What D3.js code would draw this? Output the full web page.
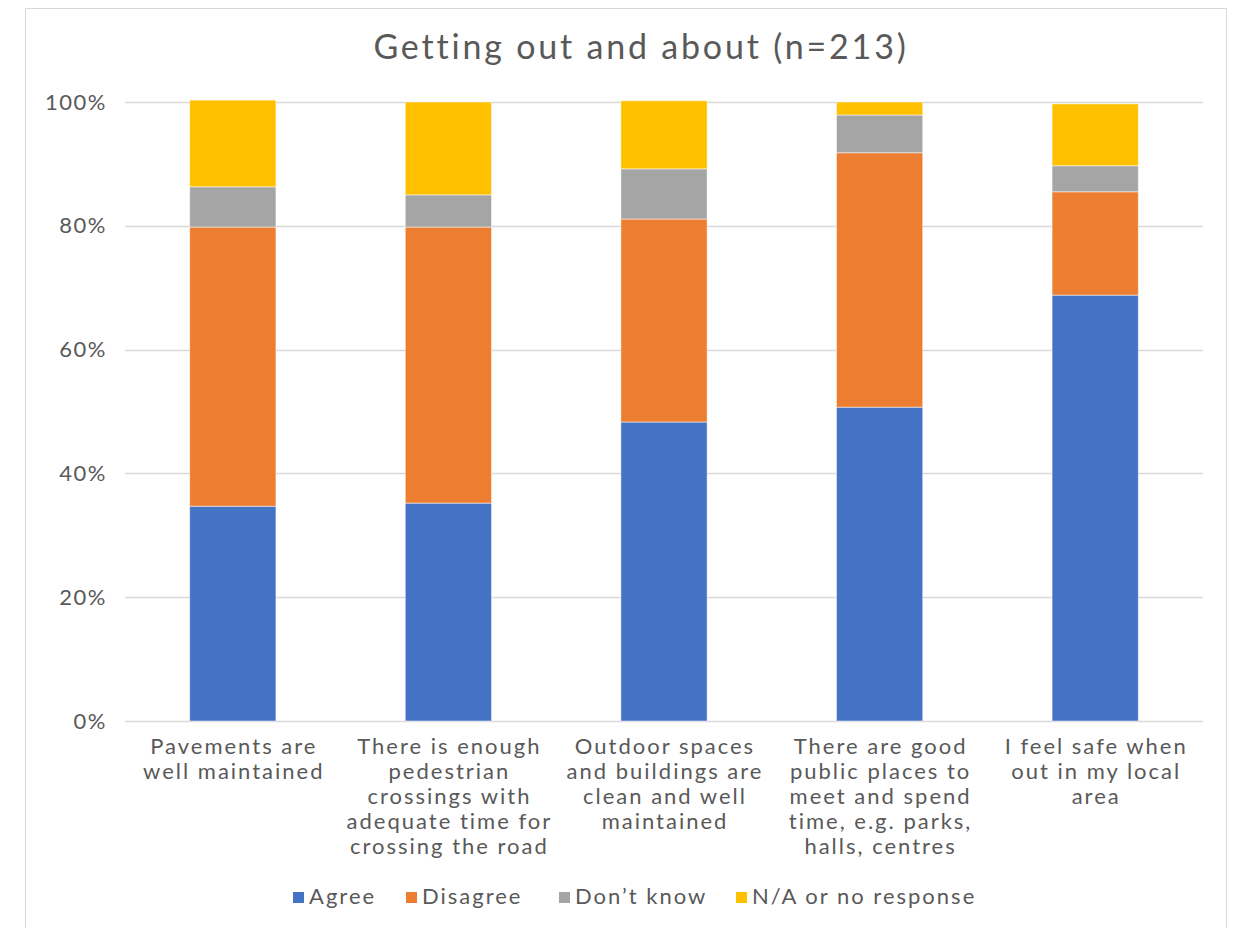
<!DOCTYPE html>
<html><head><meta charset="utf-8">
<script src="https://cdn.jsdelivr.net/npm/d3@7"></script>
<style>
html,body{margin:0;padding:0;background:#fff;}
svg{display:block;}
text{font-family:Lato,"Open Sans",sans-serif;fill:#595959;}
</style></head>
<body>
<svg id="chart" width="1237" height="928"></svg>
<script>
const title = "Getting out and about (n=213)";
const categories = [
  ["Pavements are","well maintained"],
  ["There is enough","pedestrian","crossings with","adequate time for","crossing the road"],
  ["Outdoor spaces","and buildings are","clean and well","maintained"],
  ["There are good","public places to","meet and spend","time, e.g. parks,","halls, centres"],
  ["I feel safe when","out in my local","area"]
];
const seriesNames = ["Agree","Disagree","Don\u2019t know","N/A or no response"];
const seriesColors = ["#4472C4","#ED7D31","#A5A5A5","#FFC000"];
const agree     = [34.7, 35.2, 48.3, 50.7, 68.8];
const disagree  = [45.1, 44.6, 32.8, 41.1, 16.7];
const dontKnow  = [6.5, 5.2, 8.1, 6.1, 4.2];
const naNoResp  = [14.0, 15.0, 11.0, 2.1, 10.0];
const yTicks = [0, 20, 40, 60, 80, 100];

const svg = d3.select("#chart");
// frame
svg.append("rect").attr("x",25.5).attr("y",8.5).attr("width",1201).attr("height",940)
  .attr("fill","#fff").attr("stroke","#D9D9D9").attr("stroke-width",1);

const plotL = 125, plotR = 1203, plotT = 102, plotB = 721;
const x = d3.scaleBand().domain(d3.range(categories.length)).range([plotL,plotR])
  .paddingInner(0.6).paddingOuter(0.3);
const y = d3.scaleLinear().domain([0,100]).range([plotB,plotT]);

// title
svg.append("text").attr("x",641).attr("y",59).attr("text-anchor","middle")
  .style("font-size","34px").style("letter-spacing","2.8px").text(title);

// gridlines
svg.append("g").selectAll("line").data(yTicks).join("line")
  .attr("x1",plotL).attr("x2",plotR)
  .attr("y1",d=>Math.round(y(d))+0.5).attr("y2",d=>Math.round(y(d))+0.5)
  .attr("stroke","#D9D9D9").attr("stroke-width",1.5);

// y axis labels
const yAxis = d3.axisLeft(y).tickValues(yTicks).tickFormat(d=>d+"%").tickSize(0).tickPadding(0);
const yg = svg.append("g").attr("transform",`translate(107,0)`).call(yAxis);
yg.select(".domain").remove();
yg.selectAll("text").style("font-size","22px").style("letter-spacing","1.5px")
  .attr("fill","#595959").attr("font-family","Lato");

// stacked bars
const rows = categories.map((c,i)=>({i, agree:agree[i], disagree:disagree[i], dk:dontKnow[i], na:naNoResp[i]}));
const keys = ["agree","disagree","dk","na"];
const stack = d3.stack().keys(keys)(rows);
svg.append("g").selectAll("g").data(stack).join("g")
  .attr("fill",(d,k)=>seriesColors[k])
  .selectAll("rect").data(d=>d).join("rect")
  .attr("x",d=>x(d.data.i)).attr("width",x.bandwidth())
  .attr("y",d=>y(d[1])).attr("height",d=>y(d[0])-y(d[1]))
  .attr("stroke","#ffffff").attr("stroke-opacity",0.5).attr("stroke-width",1);

// x axis labels
const xl = svg.append("g");
categories.forEach((lines,i)=>{
  const cx = x(i)+x.bandwidth()/2+1;
  const t = xl.append("text").attr("x",cx).attr("y",754)
    .attr("text-anchor","middle").style("font-size","22px").style("letter-spacing","2px");
  lines.forEach((ln,j)=>t.append("tspan").attr("x",cx).attr("dy",j?25:0).text(ln));
});

// legend
const legendX = [293, 406, 559, 736];
const lg = svg.append("g");
seriesNames.forEach((n,k)=>{
  lg.append("rect").attr("x",legendX[k]).attr("y",892).attr("width",11).attr("height",11).attr("fill",seriesColors[k]);
  lg.append("text").attr("x",legendX[k]+16).attr("y",904).style("font-size","22px")
    .style("letter-spacing","2px").text(n);
});
</script>
</body></html>
